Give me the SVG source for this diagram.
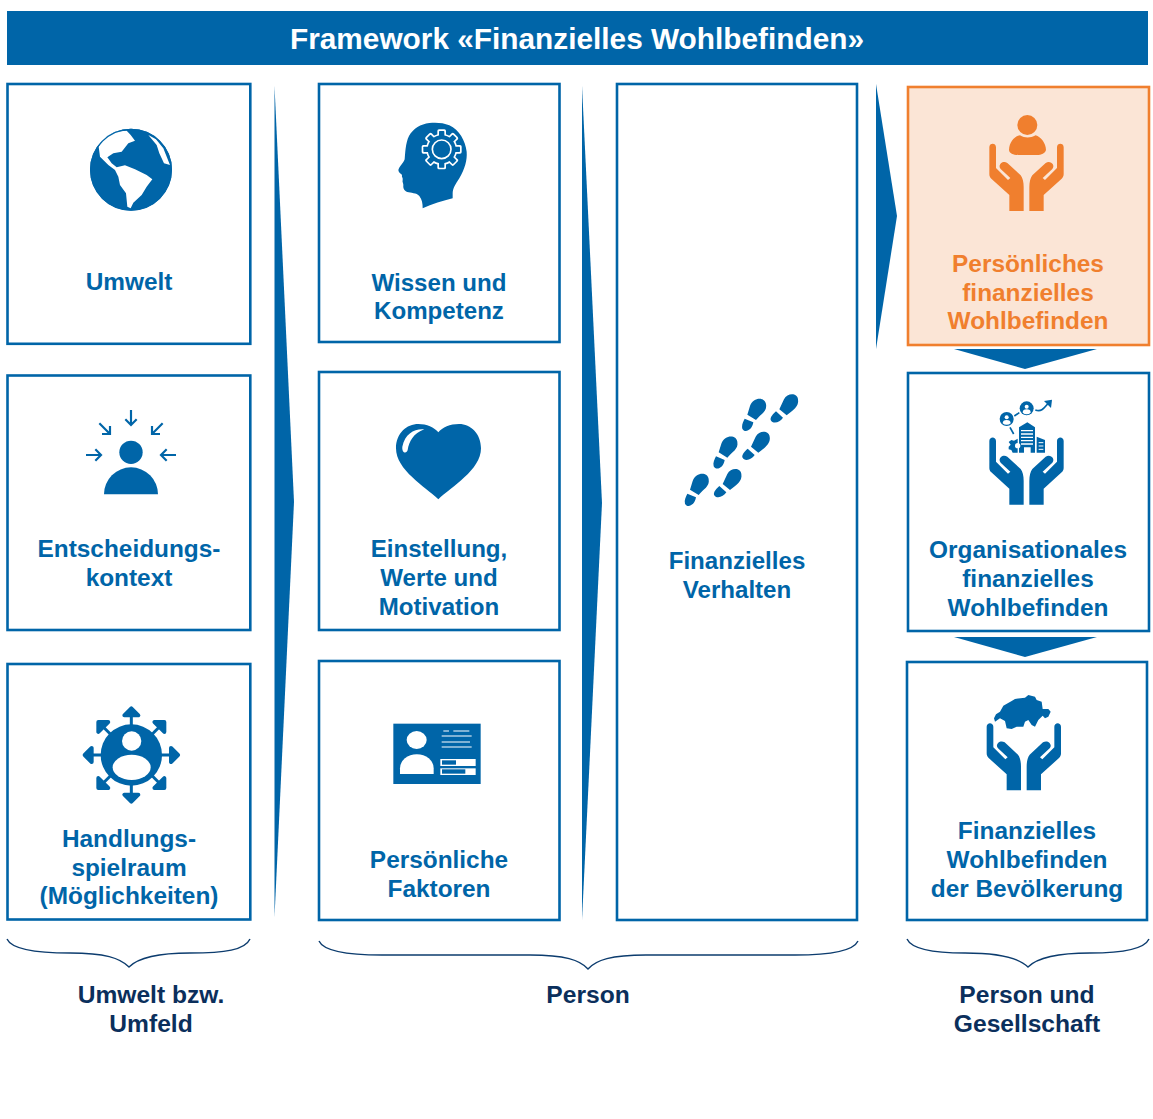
<svg xmlns="http://www.w3.org/2000/svg" xmlns:xlink="http://www.w3.org/1999/xlink" width="1153" height="1119" viewBox="0 0 1153 1119">
<style>
text{font-family:"Liberation Sans",Arial,sans-serif;font-weight:700;font-size:24.4px;text-anchor:middle;fill:#0065a8}
.t2 text{font-size:24.1px}
.box{fill:#fff;stroke:#0065a8;stroke-width:2.6}
.i{fill:#0065a8}
.o{fill:#f07f2e}
.w{fill:#fff}
.ln{fill:none;stroke:#0065a8;stroke-width:6.5;stroke-linejoin:miter}
.wl{fill:none;stroke:#fff}
.brace{fill:none;stroke:#0c3c6e;stroke-width:1.4}
.lab text{fill:#0b2f5c;font-size:24.6px}
</style>
<defs>
<path id="hand" d="M58,142C58,128 78,128 78,142V204L114,240L121,234L92,207C82,196 97,180 112,189L152,226C158,234 161,246 161,262V333H118V285L64,236C60,232 58,228 58,222Z"/>
<g id="hands"><use xlink:href="#hand" href="#hand"/><use xlink:href="#hand" href="#hand" transform="matrix(-1 0 0 1 339 0)"/></g>
<path id="shoeL" d="M288,72C285,50 250,50 240,78L232,104L258,120C272,102 292,95 288,72ZM224,116L250,127C246,152 224,160 217,146C214,135 220,125 224,116Z"/>
<path id="shoeR" d="M384,58C382,38 352,38 342,58L328,88L350,106C368,92 388,80 384,58ZM318,94L339,113C330,127 309,134 302,120C300,112 310,101 318,94Z"/>
<g id="spoke"><rect x="-4.500" y="-125" width="9" height="40"/><path d="M0,-140L21,-119H-21Z" stroke="#0065a8" stroke-width="12" stroke-linejoin="round"/></g>
<rect id="toothW" x="-13" y="-60" width="26" height="22" rx="5" fill="#fff"/>
<rect id="toothB" x="-8" y="-55" width="16" height="22" rx="2" fill="#0065a8"/>
</defs>
<rect width="1153" height="1119" fill="#fff"/>
<g id="header"><rect x="7" y="11" width="1141" height="54" class="i"/><text x="577" y="48.500" style="font-size:29.8px;fill:#fff">Framework «Finanzielles Wohlbefinden»</text></g>

<g id="connectors">
<path class="i" d="M274.500,86L294,502L274.500,917Z"/>
<path class="i" d="M582,86L602,503L582,920Z"/>
<path class="i" d="M876,84L897,216L876,349Z"/>
<path class="i" d="M954,349H1097L1025,369Z"/>
<path class="i" d="M954,637H1097L1025,657Z"/>
<path class="brace" d="M7,939C12,950 40,953 70,953C105,953 120,958 129,967C138,958 155,953 190,953C225,953 245,950 250,939"/>
<path class="brace" d="M319,941C324,952 352,955 382,955H530C565,955 580,960 588,969C596,960 611,955 646,955H795C825,955 853,952 858,941"/>
<path class="brace" d="M907,939C912,950 935,953 965,953C1000,953 1019,958 1028,967C1037,958 1055,953 1090,953C1120,953 1144,950 1149,939"/>
</g>

<g id="umwelt"><rect class="box" x="7.500" y="84" width="242.800" height="259.800"/>
<g transform="translate(0,80) scale(.33333)">
<circle class="i" cx="393" cy="269" r="123"/>
<path class="w" d="M380,152L392,165L405,182L385,190L365,215L340,220L322,232L335,250L350,262L375,256L405,268L440,285L457,298L440,320L425,345L400,368L392,385L382,380L378,340L360,315L355,290L345,270L325,255L300,230L296,200L310,175L345,155Z"/>
<path class="w" d="M445,165L468,178L490,205L510,255L492,250L478,220L470,195Z"/>
<circle cx="393" cy="269" r="121" fill="none" stroke="#0065a8" stroke-width="4"/>
</g>
<text x="129" y="290">Umwelt</text></g>

<g id="entscheidungskontext"><rect class="box" x="7.500" y="375.500" width="242.800" height="254.500"/>
<g transform="translate(60,390) scale(.33333)">
<circle class="i" cx="213" cy="187" r="35"/>
<path class="i" d="M132,313A81,81 0 0 1 294,313Z"/>
<path class="ln" d="M213,60V105M196,88L213,105L230,88M78,195H123M106,178L123,195L106,212M348,195H303M320,178L303,195L320,212M118,100L150,132M150,108V132H126M308,100L276,132M276,108V132H300"/>
</g>
<text x="129" y="557">Entscheidungs-</text><text x="129" y="586">kontext</text></g>

<g id="handlungsspielraum"><rect class="box" x="7.500" y="664" width="242.800" height="255.500"/>
<g transform="translate(60,690) scale(.33333)">
<g class="i" transform="translate(214,195)"><use xlink:href="#spoke" href="#spoke"/><use xlink:href="#spoke" href="#spoke" transform="rotate(45)"/><use xlink:href="#spoke" href="#spoke" transform="rotate(90)"/><use xlink:href="#spoke" href="#spoke" transform="rotate(135)"/><use xlink:href="#spoke" href="#spoke" transform="rotate(180)"/><use xlink:href="#spoke" href="#spoke" transform="rotate(225)"/><use xlink:href="#spoke" href="#spoke" transform="rotate(270)"/><use xlink:href="#spoke" href="#spoke" transform="rotate(315)"/></g>
<circle class="i" cx="214" cy="195" r="92"/>
<circle class="w" cx="215" cy="153" r="29"/>
<ellipse class="w" cx="215" cy="232" rx="57" ry="38"/>
</g>
<text x="129" y="847">Handlungs-</text><text x="129" y="876">spielraum</text><text x="129" y="904">(Möglichkeiten)</text></g>

<g id="wissen" class="t2"><rect class="box" x="319" y="84" width="240.500" height="258"/>
<g transform="translate(380,110) scale(.33333)">
<path class="i" d="M128,295C128,280 126,268 118,258C110,248 92,249 82,246C72,243 69,234 70,226C71,220 66,216 68,210C70,205 64,200 66,194C60,190 53,184 56,177C60,168 72,156 74,148C76,130 76,100 87,78C100,55 122,42 148,39C168,37 190,38 208,46C238,60 256,92 260,125C262,150 255,175 238,205C226,224 218,235 218,250V265C190,272 155,282 128,295Z"/>
<g transform="translate(185,118)">
<use xlink:href="#toothW" href="#toothW"/><use xlink:href="#toothW" href="#toothW" transform="rotate(45)"/><use xlink:href="#toothW" href="#toothW" transform="rotate(90)"/><use xlink:href="#toothW" href="#toothW" transform="rotate(135)"/><use xlink:href="#toothW" href="#toothW" transform="rotate(180)"/><use xlink:href="#toothW" href="#toothW" transform="rotate(225)"/><use xlink:href="#toothW" href="#toothW" transform="rotate(270)"/><use xlink:href="#toothW" href="#toothW" transform="rotate(315)"/>
<circle r="47" fill="#fff"/>
<use xlink:href="#toothB" href="#toothB"/><use xlink:href="#toothB" href="#toothB" transform="rotate(45)"/><use xlink:href="#toothB" href="#toothB" transform="rotate(90)"/><use xlink:href="#toothB" href="#toothB" transform="rotate(135)"/><use xlink:href="#toothB" href="#toothB" transform="rotate(180)"/><use xlink:href="#toothB" href="#toothB" transform="rotate(225)"/><use xlink:href="#toothB" href="#toothB" transform="rotate(270)"/><use xlink:href="#toothB" href="#toothB" transform="rotate(315)"/>
<circle r="42" class="i"/>
<circle r="28" class="wl" stroke-width="5"/>
</g>
</g>
<text x="439" y="291">Wissen und</text><text x="439" y="319">Kompetenz</text></g>

<g id="einstellung" class="t2"><rect class="box" x="319" y="372" width="240.500" height="258"/>
<g transform="translate(385,410) scale(.33333)">
<path class="i" d="M160,268C120,230 33,180 33,115C33,70 65,42 100,42C125,42 148,52 160,67C172,52 195,42 222,42C258,42 288,72 288,115C288,180 200,230 160,268Z"/>
<path class="w" d="M118,58C90,55 60,70 52,110C50,130 65,132 68,120C72,95 85,70 118,58Z"/>
</g>
<text x="439" y="557">Einstellung,</text><text x="439" y="586">Werte und</text><text x="439" y="615">Motivation</text></g>

<g id="faktoren"><rect class="box" x="319" y="661" width="240.500" height="259"/>
<g transform="translate(380,710) scale(.33333)">
<rect class="i" x="40" y="41" width="262" height="181"/>
<ellipse class="w" cx="110" cy="90" rx="30" ry="27"/>
<path class="w" d="M60,192V175A50,42 0 0 1 161,175V192Z"/>
<path class="wl" stroke-width="3.500" d="M190,63H207M220,63H268M185,78H275M185,96H270M185,111H275"/>
<rect class="w" x="181" y="147" width="106" height="21"/><rect class="i" x="186" y="151" width="42" height="13"/>
<rect class="w" x="181" y="175" width="106" height="20"/><rect class="i" x="186" y="178" width="70" height="13"/>
</g>
<text x="439" y="868">Persönliche</text><text x="439" y="897">Faktoren</text></g>

<g id="verhalten" class="t2"><rect class="box" x="617" y="84" width="240" height="836"/>
<g class="i" transform="translate(670,380) scale(.33333)">
<use xlink:href="#shoeR" href="#shoeR"/><use xlink:href="#shoeR" href="#shoeR" transform="translate(-85,112)"/><use xlink:href="#shoeR" href="#shoeR" transform="translate(-170,224)"/>
<use xlink:href="#shoeL" href="#shoeL"/><use xlink:href="#shoeL" href="#shoeL" transform="translate(-86,113)"/><use xlink:href="#shoeL" href="#shoeL" transform="translate(-172,225)"/>
</g>
<text x="737" y="569">Finanzielles</text><text x="737" y="598">Verhalten</text></g>

<g id="persoenlich"><rect x="908" y="87" width="241" height="258" fill="#fbe5d6" stroke="#f07f2e" stroke-width="2.600"/>
<g class="o" transform="translate(970,100) scale(.33333)">
<use xlink:href="#hands" href="#hands"/>
<circle cx="172" cy="75" r="30"/>
<path d="M117,150C118,125 135,108 150,106C165,115 180,115 197,106C212,110 228,130 228,150C225,160 215,165 200,165H145C130,165 118,160 117,150Z"/>
</g>
<text x="1028" y="272" style="fill:#f07f2e">Persönliches</text><text x="1028" y="301" style="fill:#f07f2e">finanzielles</text><text x="1028" y="329" style="fill:#f07f2e">Wohlbefinden</text></g>

<g id="organisational"><rect class="box" x="908" y="373" width="241" height="258"/>
<g class="i" transform="translate(970,390) scale(.33333)">
<use xlink:href="#hands" href="#hands" transform="translate(0,11)"/>
<circle cx="110" cy="87" r="21"/><circle cx="170" cy="55" r="21"/>
<circle cx="110" cy="82" r="6" fill="#fff"/><path fill="#fff" d="M98,100A12,10 0 0 1 122,100A18,18 0 0 1 98,100Z"/>
<circle cx="170" cy="50" r="6" fill="#fff"/><path fill="#fff" d="M158,68A12,10 0 0 1 182,68A18,18 0 0 1 158,68Z"/>
<path fill="none" stroke="#0065a8" stroke-width="5" d="M133,78L148,68M120,112L131,132M196,60C212,66 218,60 238,36"/>
<path d="M222,33L246,29L243,54Z"/>
<path d="M147,188V112L172,97L195,112V188H182V172H162V188Z"/>
<path class="wl" stroke-width="4" d="M153,122H189M153,132H189M153,142H189M153,152H189M153,162H189"/>
<path d="M200,140L225,150V188H200Z"/>
<path class="wl" stroke-width="3" d="M206,158H220M206,168H220M206,178H220"/>
<path d="M143,146V188H128L124,180L116,178V170L122,164L116,156L124,150L132,152Z"/>
<circle cx="143" cy="167" r="8" fill="#fff"/>
</g>
<text x="1028" y="558">Organisationales</text><text x="1028" y="587">finanzielles</text><text x="1028" y="616">Wohlbefinden</text></g>

<g id="bevoelkerung"><rect class="box" x="907" y="662" width="240" height="258"/>
<g class="i" transform="translate(970,685) scale(.33333)">
<use xlink:href="#hands" href="#hands" transform="translate(-8,-17)"/>
<path d="M72,100L78,88L90,80L100,62L125,48L135,42L165,38L175,30L195,35L200,45L215,50L218,72L235,72L242,80L235,95L225,100L218,92L205,105L195,125L185,120L175,105L165,110L160,125L140,125L125,132L110,130L105,108L90,100L75,110Z"/>
</g>
<text x="1027" y="839">Finanzielles</text><text x="1027" y="868">Wohlbefinden</text><text x="1027" y="897">der Bevölkerung</text></g>

<g id="label-umfeld" class="lab"><text x="151" y="1003">Umwelt bzw.</text><text x="151" y="1032">Umfeld</text></g>
<g id="label-person" class="lab"><text x="588" y="1003">Person</text></g>
<g id="label-gesellschaft" class="lab"><text x="1027" y="1003">Person und</text><text x="1027" y="1032">Gesellschaft</text></g>
</svg>
